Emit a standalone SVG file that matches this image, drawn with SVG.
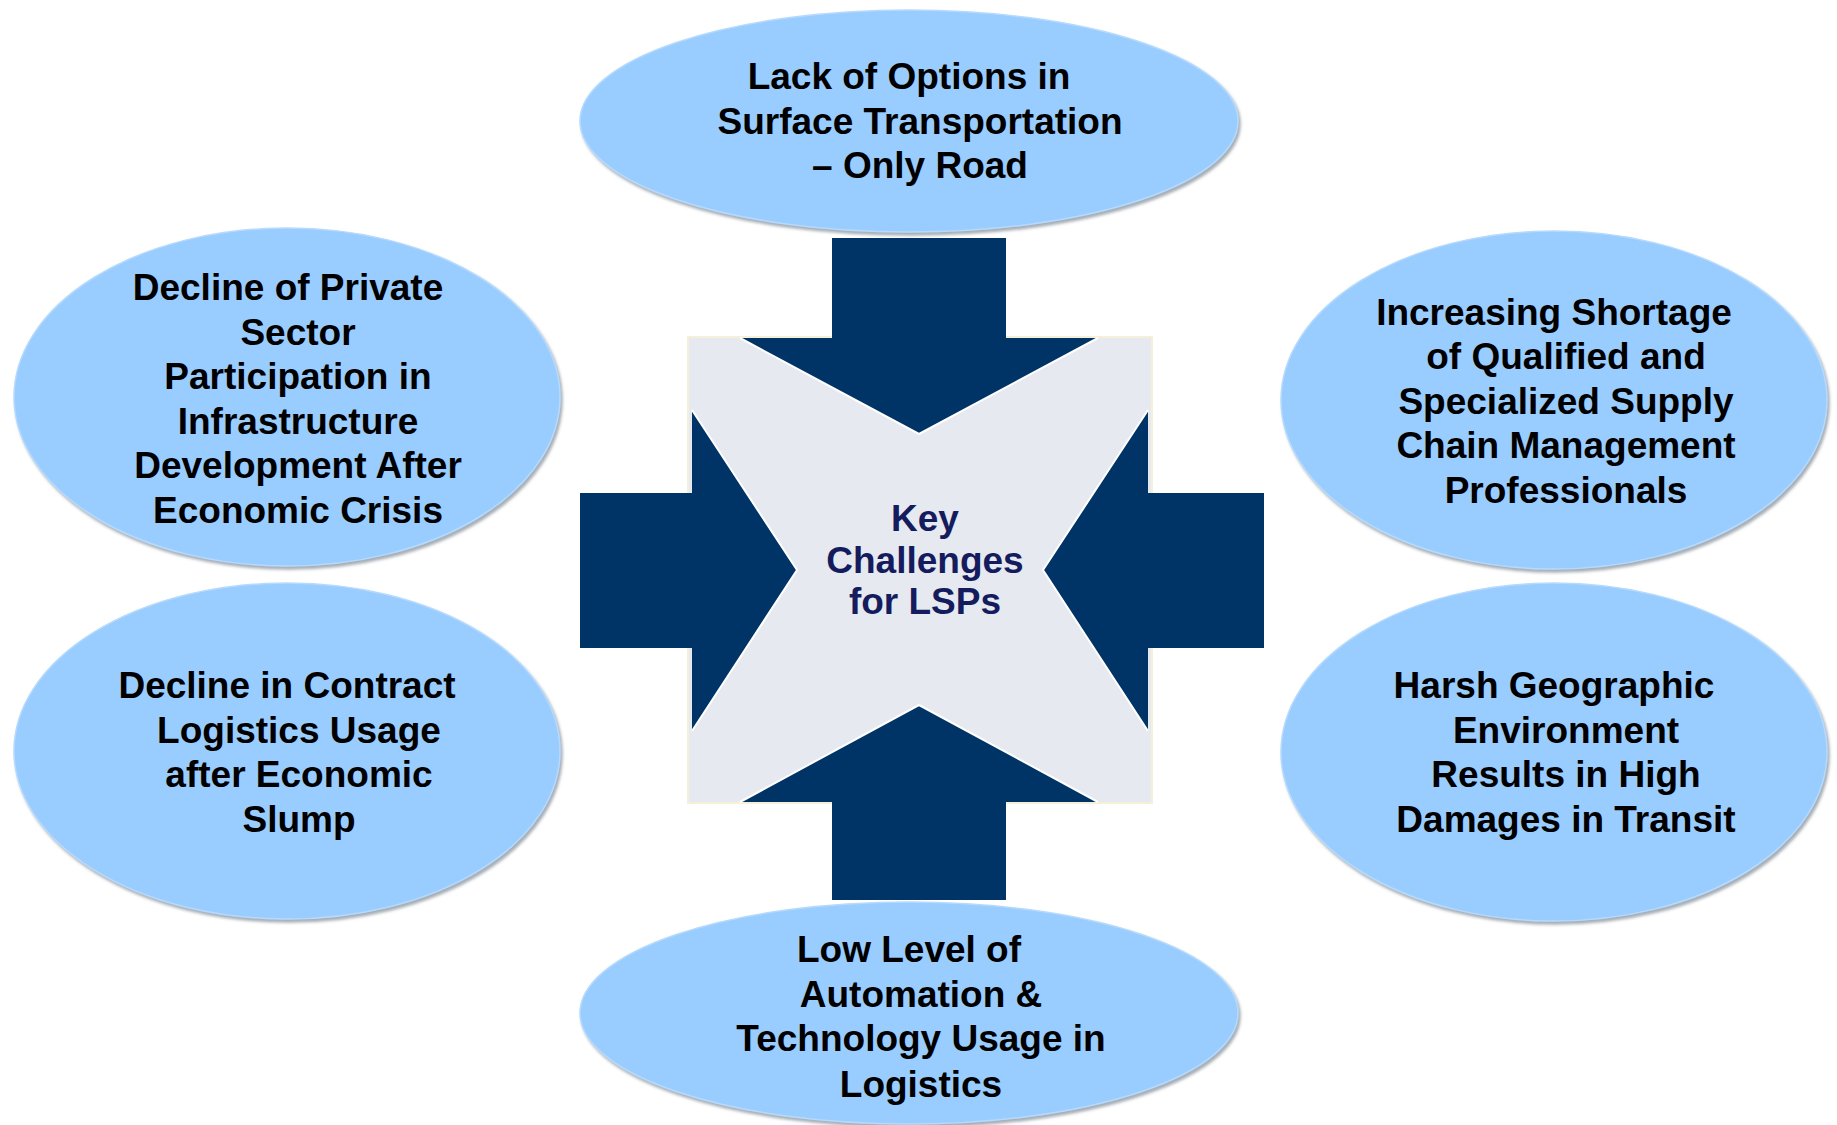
<svg xmlns="http://www.w3.org/2000/svg" width="1837" height="1125" viewBox="0 0 1837 1125">
<defs>
<filter id="sh" x="-5%" y="-5%" width="110%" height="115%">
<feDropShadow dx="2" dy="3" stdDeviation="1.5" flood-color="#7f8a96" flood-opacity="0.7"/>
</filter>
<style>
.ell{fill:#99ccff;stroke:#b6dafc;stroke-width:1.5;filter:url(#sh)}
.t{font-family:"Liberation Sans",Arial,Helvetica,sans-serif;font-weight:bold;font-size:37px;fill:#000;text-anchor:middle}
.c{font-family:"Liberation Sans",Arial,Helvetica,sans-serif;font-weight:bold;font-size:37px;fill:#141c5e;text-anchor:middle}
.dk{fill:#003466}
.edge{fill:none;stroke:#ffffff;stroke-width:2}
</style>
</defs>
<rect width="1837" height="1125" fill="#ffffff"/>

<g id="center">
<rect x="688" y="337" width="464" height="466" fill="#e6e9ef" stroke="#f4f0da" stroke-width="2"/>
<path class="dk" d="M832,238 H1006 V338 H1098 L919,434 L740,338 H832 Z"/>
<path class="dk" d="M832,900 H1006 V802 H1098 L919,705 L740,802 H832 Z"/>
<path class="dk" d="M580,493 V648 H692 V731 L797,570 L692,410 V493 Z"/>
<path class="dk" d="M1264,493 V648 H1148 V731 L1043,570 L1148,410 V493 Z"/>
<path class="edge" d="M740,338 L919,434 L1098,338 M740,802 L919,705 L1098,802 M692,410 L797,570 L692,731 M1148,410 L1043,570 L1148,731"/>
<text class="c"><tspan x="925" y="531">Key</tspan><tspan x="925" y="573">Challenges</tspan><tspan x="925" y="614">for LSPs</tspan></text>
</g>

<g id="n-top">
<ellipse class="ell" cx="909" cy="121" rx="329" ry="111"/>
<text class="t"><tspan x="909" y="89">Lack of Options in</tspan><tspan x="920" y="134">Surface Transportation</tspan><tspan x="920" y="178">– Only Road</tspan></text>
</g>

<g id="n-topleft">
<ellipse class="ell" cx="287" cy="397" rx="273" ry="169"/>
<text class="t"><tspan x="288" y="300">Decline of Private</tspan><tspan x="298" y="345">Sector</tspan><tspan x="298" y="389">Participation in</tspan><tspan x="298" y="434">Infrastructure</tspan><tspan x="298" y="478">Development After</tspan><tspan x="298" y="523">Economic Crisis</tspan></text>
</g>

<g id="n-topright">
<ellipse class="ell" cx="1554" cy="400" rx="273" ry="169"/>
<text class="t"><tspan x="1554" y="325">Increasing Shortage</tspan><tspan x="1566" y="369">of Qualified and</tspan><tspan x="1566" y="414">Specialized Supply</tspan><tspan x="1566" y="458">Chain Management</tspan><tspan x="1566" y="503">Professionals</tspan></text>
</g>

<g id="n-bottomleft">
<ellipse class="ell" cx="287" cy="751" rx="273" ry="168"/>
<text class="t"><tspan x="287" y="698">Decline in Contract</tspan><tspan x="299" y="743">Logistics Usage</tspan><tspan x="299" y="787">after Economic</tspan><tspan x="299" y="832">Slump</tspan></text>
</g>

<g id="n-bottomright">
<ellipse class="ell" cx="1554" cy="752" rx="273" ry="169"/>
<text class="t"><tspan x="1554" y="698">Harsh Geographic</tspan><tspan x="1566" y="743">Environment</tspan><tspan x="1566" y="787">Results in High</tspan><tspan x="1566" y="832">Damages in Transit</tspan></text>
</g>

<g id="n-bottom">
<ellipse class="ell" cx="909" cy="1013" rx="329" ry="111"/>
<text class="t"><tspan x="909" y="962">Low Level of</tspan><tspan x="921" y="1007">Automation &amp;</tspan><tspan x="921" y="1051">Technology Usage in</tspan><tspan x="921" y="1097">Logistics</tspan></text>
</g>

<g id="connectors"></g>
</svg>
